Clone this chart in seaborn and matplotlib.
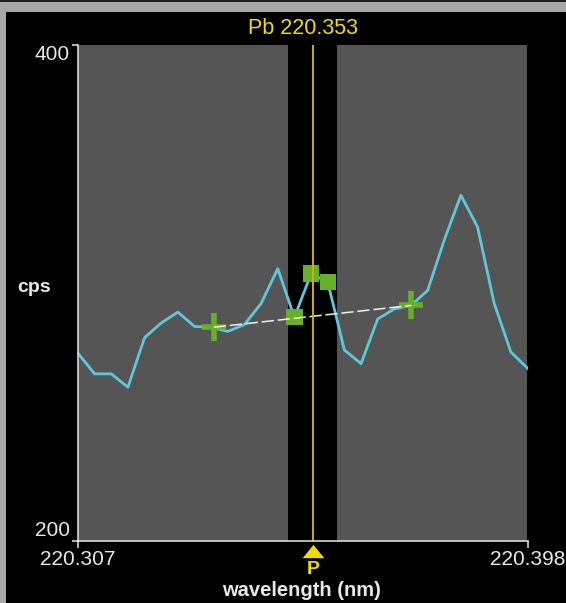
import matplotlib
matplotlib.use("Agg")
import matplotlib.pyplot as plt
import matplotlib.transforms as mtransforms
from matplotlib.patches import Rectangle
import seaborn as sns
import pandas as pd

plt.rcParams['font.family'] = ['Liberation Sans', 'DejaVu Sans']

# ---- data -------------------------------------------------------------
wavelength = [220.30700, 220.31037, 220.31374, 220.31711, 220.32048, 220.32385,
              220.32722, 220.33059, 220.33396, 220.33733, 220.34070, 220.34407,
              220.34744, 220.35081, 220.35419, 220.35756, 220.36093, 220.36430,
              220.36767, 220.37104, 220.37441, 220.37778, 220.38115, 220.38452,
              220.38789, 220.39126, 220.39463, 220.39800]
cps = [275.5, 267.2, 267.2, 261.8, 281.8, 287.7, 292.1, 286.3, 286.0, 284.3,
       287.1, 295.6, 309.6, 290.0, 307.6, 304.2, 276.8, 271.3, 289.3, 293.4,
       294.8, 300.8, 321.2, 339.2, 326.4, 295.6, 276.0, 269.5]

peak_wl = [220.35081, 220.35419, 220.35756]
peak_cps = [290.0, 307.6, 304.2]

bg_wl = [220.3345, 220.3745]
bg_cps = [286.0, 294.8]

x_range = [220.307, 220.398]
y_range = [200, 400]
x_ticklabels = ["220.307", "220.398"]
y_ticklabels = ["200", "400"]
peak_window = [220.3496, 220.3595]
peak_line = 220.3546
title = "Pb 220.353"
xlabel = "wavelength (nm)"
ylabel = "cps"

# ---- style ------------------------------------------------------------
W, H = 566, 603
GRAY = "#555555"
CYAN = "#5ec8dc"
GREEN = "#68b02a"
YELLOW = "#f0dc00"
YLINE = "#c8b400"
WHITE = "#e8e8e8"

fig = plt.figure(figsize=(W / 100, H / 100), dpi=100, facecolor="black")

# window frame
fig.patches.append(Rectangle((0, 1 - 12 / H), 1, 12 / H, transform=fig.transFigure,
                             facecolor="#a8a8a8", edgecolor="none", zorder=0))
fig.patches.append(Rectangle((0, 0), 6 / W, 1, transform=fig.transFigure,
                             facecolor="#a8a8a8", edgecolor="none", zorder=0))
fig.patches.append(Rectangle((0, 1 - 2 / H), 1, 2 / H, transform=fig.transFigure,
                             facecolor="#1e1e1e", edgecolor="none", zorder=1))

ax = fig.add_axes([78 / W, 1 - 540.5 / H, 449.5 / W, 496 / H])
ax.set_facecolor("black")

ax.axvspan(x_range[0], peak_window[0], color=GRAY, zorder=0, lw=0)
ax.axvspan(peak_window[1], x_range[1], color=GRAY, zorder=0, lw=0)

df = pd.DataFrame({"wavelength": wavelength, "cps": cps})
sns.lineplot(data=df, x="wavelength", y="cps", ax=ax, color=CYAN,
             linewidth=2.0, zorder=2)

# background points (crosses)
ax.plot(bg_wl, bg_cps, linestyle="none", marker="|", markersize=20,
        markeredgewidth=4.0, color=GREEN, zorder=3)
ax.plot(bg_wl, bg_cps, linestyle="none", marker="_", markersize=17,
        markeredgewidth=4.0, color=GREEN, zorder=3)

# peak points (squares)
sns.scatterplot(x=peak_wl, y=peak_cps, ax=ax, marker="s", s=11.8 ** 2,
                color=GREEN, linewidth=0, edgecolor="none", zorder=4)

# background fit line
ax.plot(bg_wl, bg_cps, color="#f0f0f0", linewidth=1.1, dashes=(8, 2.5), zorder=5)

# peak position line
ax.axvline(peak_line, color=YLINE, linewidth=1.4, zorder=6)

ax.set_xlim(*x_range)
ax.set_ylim(*y_range)

for s in ["top", "right"]:
    ax.spines[s].set_visible(False)
for s in ["left", "bottom"]:
    ax.spines[s].set_color(WHITE)
    ax.spines[s].set_linewidth(1.1)
    ax.spines[s].set_zorder(7)

ax.set_xticks(x_range)
ax.set_xticklabels(x_ticklabels)
ax.set_yticks(y_range)
ax.set_yticklabels(y_ticklabels)
ax.tick_params(axis="x", colors=WHITE, direction="out", length=5, width=1.1,
               labelsize=15, pad=2)
ax.tick_params(axis="y", colors=WHITE, direction="out", length=4.3, width=1.1,
               labelsize=15, pad=1.5)
ylabels = ax.get_yticklabels()
ylabels[0].set_va("bottom")
ylabels[1].set_va("top")

ax.set_ylabel(ylabel, rotation=0, color=WHITE, fontsize=14, fontweight="bold",
              ha="center", va="center")
ax.yaxis.set_label_coords((34.5 - 78) / 449.5, 1 - (287 - 44.5) / 496)
ax.set_xlabel(xlabel, color=WHITE, fontsize=14.5, fontweight="bold",
              ha="center", va="center")
ax.xaxis.set_label_coords((301.5 - 78) / 449.5, -(590 - 540.5) / 496)

# peak marker below the axis
trans = mtransforms.blended_transform_factory(ax.transData, ax.transAxes)
ax.plot([peak_line], [-(550.5 - 540.5) / 496], transform=trans, linestyle="none",
        marker=[(0, 0.62), (-1, -0.62), (1, -0.62)], markersize=15.5,
        color=YELLOW, markeredgewidth=0, clip_on=False, zorder=8)
ax.text(peak_line, -(569 - 540.5) / 496, "P", transform=trans, color=YELLOW,
        fontsize=14, fontweight="bold", ha="center", va="center")

fig.text(302.5 / W, 1 - 29 / H, title, color=YELLOW, fontsize=15.5,
         ha="center", va="center")

fig.savefig("out.png", dpi=100, facecolor=fig.get_facecolor())
